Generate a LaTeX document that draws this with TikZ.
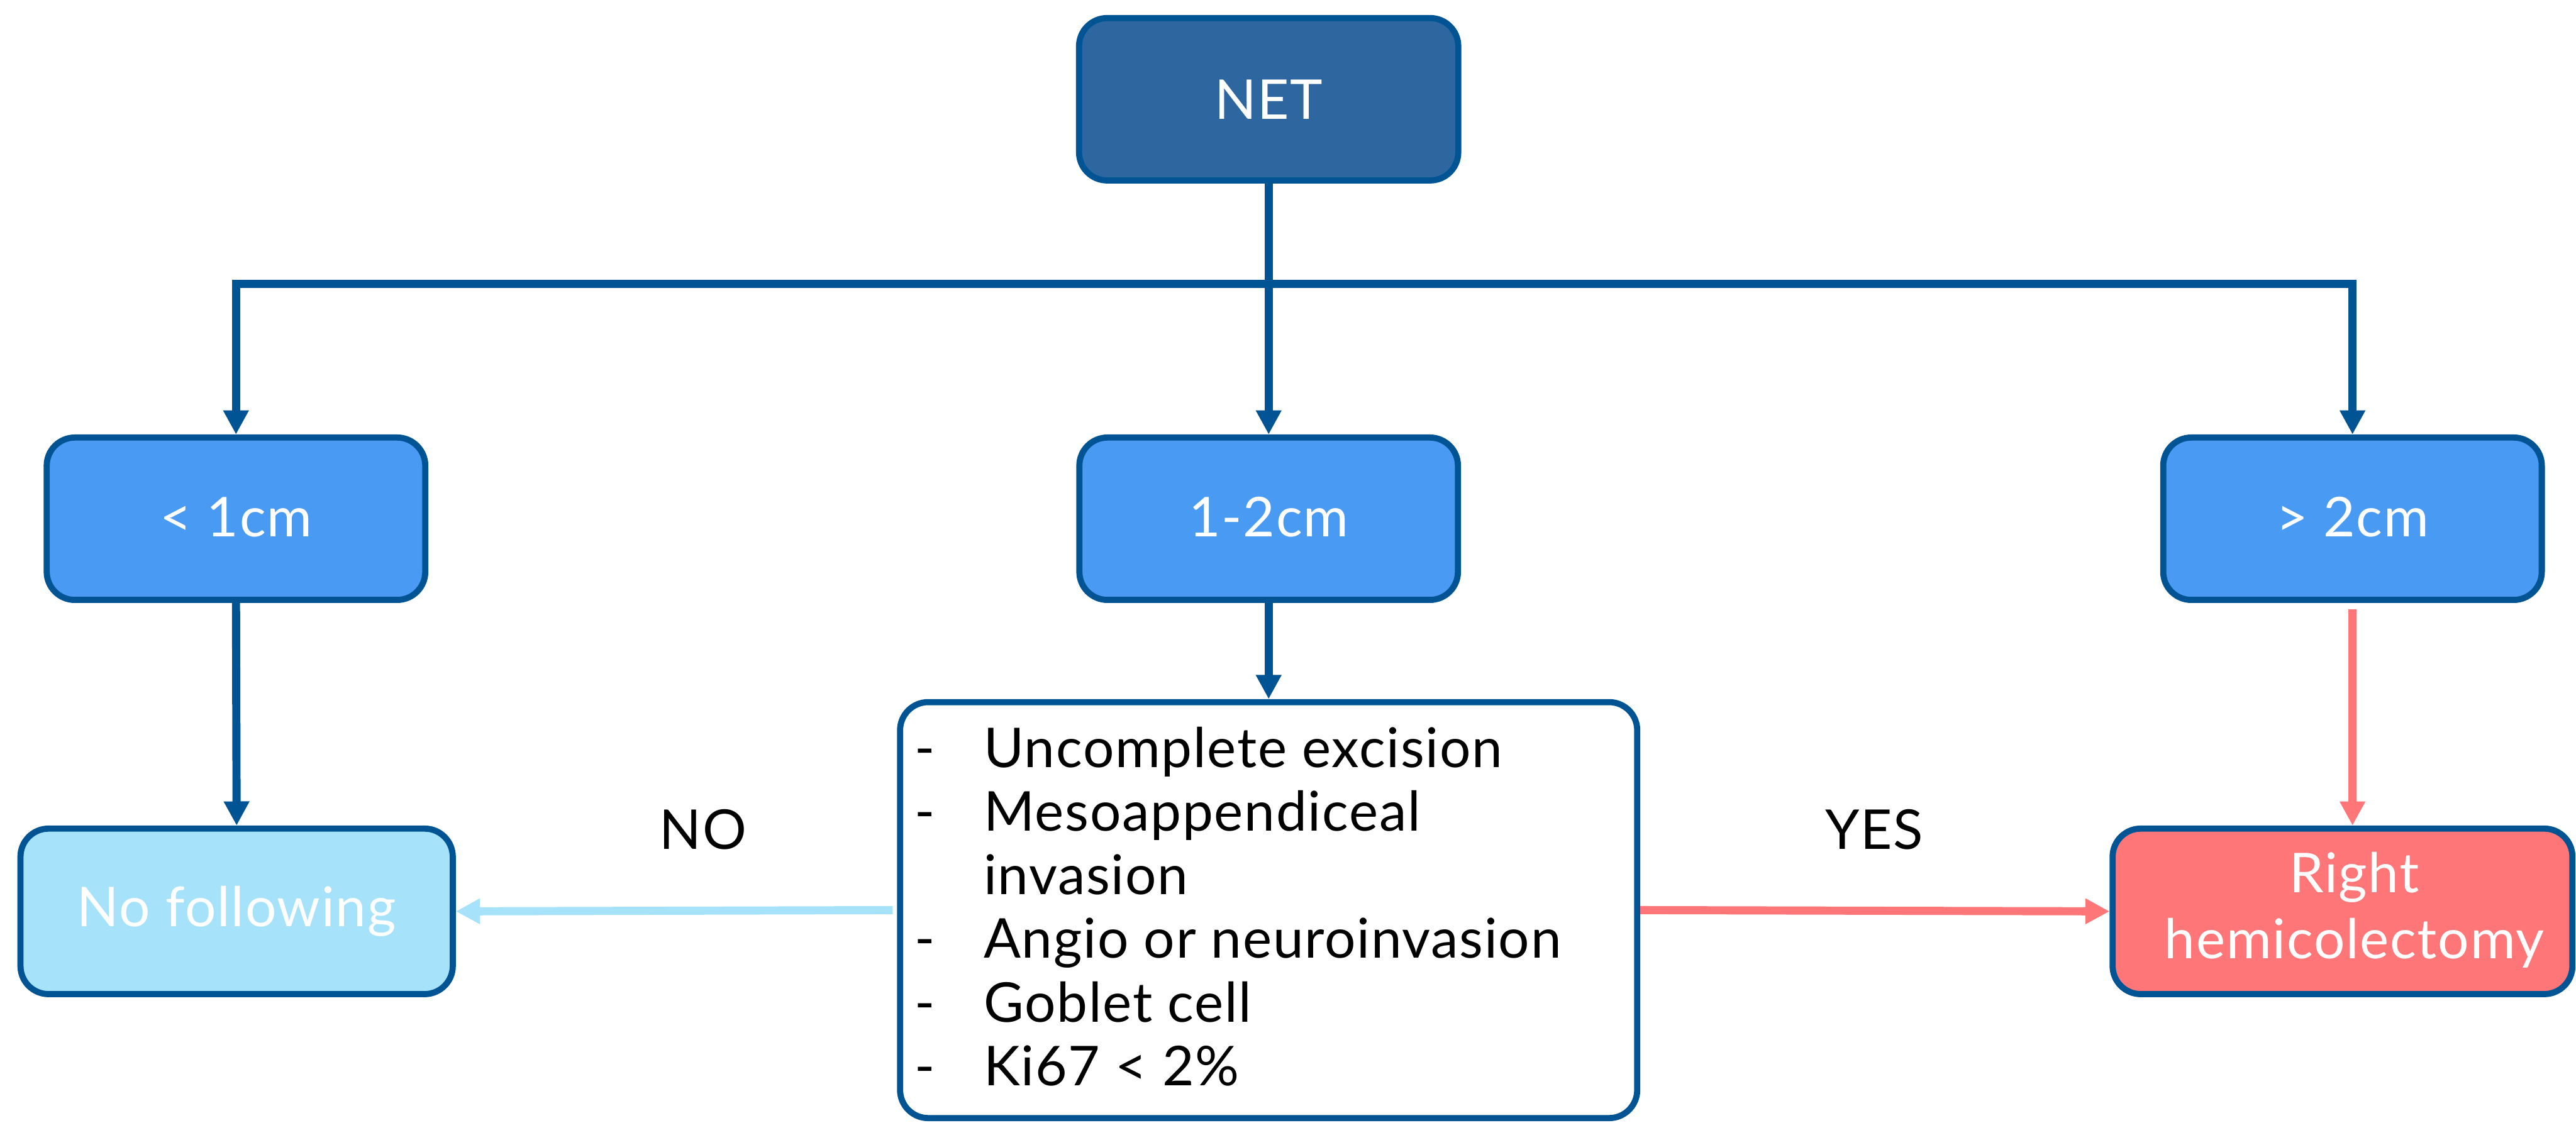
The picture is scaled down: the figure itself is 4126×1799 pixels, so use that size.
\documentclass[tikz,border=0pt]{standalone}
\usepackage{fontspec}
\setmainfont{Lato}[LetterSpace=2]
\usetikzlibrary{arrows.meta}
\definecolor{dblue}{HTML}{005494}
\definecolor{netfill}{HTML}{2E67A0}
\definecolor{midfill}{HTML}{499AF2}
\definecolor{lblue}{HTML}{A6E3FA}
\definecolor{redfill}{HTML}{FF7679}
\tikzset{
  box/.style={draw=dblue, line width=2.8pt, rounded corners=0.45cm, inner sep=0pt,
    align=center, font=\fontsize{25}{30}\selectfont, text=white},
  netbox/.style={box, fill=netfill, minimum width=6.07cm, minimum height=2.60cm},
  sizebox/.style={box, fill=midfill, minimum width=6.06cm, minimum height=2.60cm},
  nofbox/.style={box, fill=lblue, minimum width=6.92cm, minimum height=2.65cm},
  redbox/.style={box, fill=redfill, minimum width=7.36cm, minimum height=2.65cm},
  critbox/.style={box, fill=white, minimum width=11.80cm, minimum height=6.66cm},
  plaintext/.style={inner sep=0pt, font=\fontsize{25}{29}\selectfont, text=black},
  whitetext/.style={inner sep=0pt, align=center, font=\fontsize{25}{30}\selectfont, text=white},
  tipshape/.style={-{Triangle[length=11pt,width=11pt]}},
  conn/.style={line width=3.7pt, draw=dblue, tipshape},
  noconn/.style={line width=3.7pt, draw=lblue, tipshape},
  yesconn/.style={line width=3.7pt, draw=redfill, tipshape},
}
\begin{document}
\begin{tikzpicture}[x=0.01cm, y=-0.01cm]
\path[use as bounding box] (0,0) rectangle (4126,1799);

% nodes
\node[netbox] (net) at (2032,159) {NET};
\node[sizebox] (lt) at (378,831) {\raisebox{1.5pt}{< 1cm}};
\node[sizebox] (mid) at (2032,831) {\raisebox{1.5pt}{1-2cm}};
\node[sizebox] (rt) at (3768,831) {\raisebox{1.5pt}{> 2cm}};
\node[nofbox] (nof) at (379,1460) {No following};
\node[critbox] (crit) at (2032,1458) {};
\node[redbox] (rh) at (3752,1460) {};
\node[whitetext] (rhtext) at (3771,1458) {Right\\hemicolectomy};

\node[plaintext, anchor=base west] (critlist) at (1464,1229)
  {\renewcommand{\arraystretch}{1}\begin{tabular}[t]{@{}p{1.11cm}@{}l@{}}
  -&Uncomplete excision\\
  -&Mesoappendiceal\\
   &invasion\\
  -&Angio or neuroinvasion\\
  -&Goblet cell\\
  -&Ki67 < 2\%
  \end{tabular}};

\node[plaintext, anchor=base] (nolabel) at (1126,1360) {NO};
\node[plaintext, anchor=base] (yeslabel) at (3002,1360) {YES};

% connectors
\coordinate (junc) at (2032,455);
\draw[conn] (net.south) -- (mid.north);
\draw[conn] (junc) -| (lt.north);
\draw[conn] (junc) -| (rt.north);
\draw[conn] (lt.south) -- (nof.north);
\draw[conn] (mid.south) -- (crit.north);
\draw[yesconn, shorten <=3pt] (rt.south) -- (rh.north -| rt.south);
\draw[noconn, shorten <=2pt] (crit.west) -- (nof.east);
\draw[yesconn] (crit.east) -- (rh.west);
\end{tikzpicture}
\end{document}
